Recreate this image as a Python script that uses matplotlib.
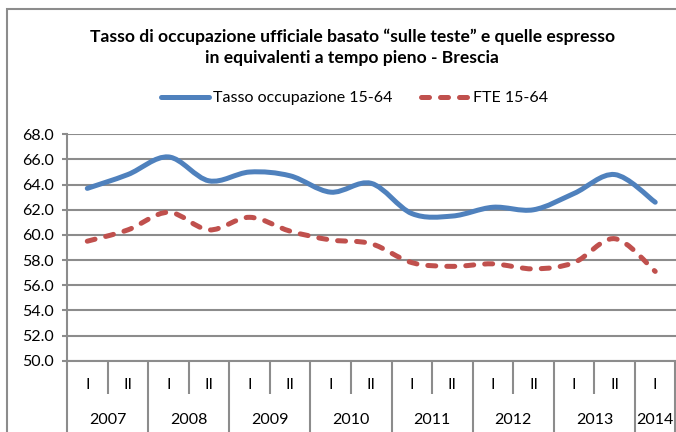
import numpy as np
from matplotlib import pyplot as plt
from matplotlib.path import Path
from matplotlib.patches import PathPatch, Rectangle
from matplotlib.lines import Line2D
from matplotlib.ticker import FormatStrFormatter

# Semesters 2007 I .. 2014 I
semesters = ["I", "II"] * 7 + ["I"]
years = ["2007", "2008", "2009", "2010", "2011", "2012", "2013", "2014"]
tasso = [63.7, 64.8, 66.2, 64.3, 65.0, 64.7, 63.4, 64.1,
         61.7, 61.5, 62.2, 62.0, 63.3, 64.8, 62.6]
fte = [59.5, 60.4, 61.8, 60.4, 61.4, 60.3, 59.6, 59.3,
       57.8, 57.5, 57.7, 57.3, 57.8, 59.7, 57.1]

BLUE = "#4F81BD"
RED = "#C0504D"
GRID = "#8c8c8c"


def smooth_path(values):
    """ Excel-like smoothed line: cubic bezier through every point """
    pts = np.column_stack([np.arange(len(values)), values]).astype(float)
    ext = np.vstack([pts[0], pts, pts[-1]])
    verts = [pts[0]]
    codes = [Path.MOVETO]
    for i in range(len(pts) - 1):
        p_prev, p0, p1, p_next = ext[i], ext[i + 1], ext[i + 2], ext[i + 3]
        verts += [p0 + (p1 - p_prev) / 6, p1 - (p_next - p0) / 6, p1]
        codes += [Path.CURVE4] * 3
    return Path(verts, codes)


def main():
    plt.rcParams['font.family'] = ['Lato', 'DejaVu Sans']
    fig = plt.figure(figsize=(6.76, 4.32), dpi=100)
    ax = fig.add_axes([67 / 676, 1 - 360.7 / 432, 608.5 / 676, 226.4 / 432])

    ax.add_patch(PathPatch(smooth_path(tasso), fill=False, ec=BLUE, lw=3.6,
                           capstyle='round', joinstyle='round', zorder=3))
    ax.add_patch(PathPatch(smooth_path(fte), fill=False, ec=RED, lw=3.6,
                           linestyle=(0, (1.6, 2.2)), capstyle='round',
                           joinstyle='round', zorder=3))

    n = len(semesters)
    ax.set_xlim(-0.5, n - 0.5)
    ax.set_ylim(50, 68)
    ax.set_yticks(np.arange(50, 68.1, 2))
    ax.yaxis.set_major_formatter(FormatStrFormatter('%.1f'))
    ax.yaxis.grid(True, color=GRID, lw=1.5)
    ax.set_axisbelow(True)
    for side in ['top', 'right']:
        ax.spines[side].set_visible(False)
    for side in ['left', 'bottom']:
        ax.spines[side].set_color(GRID)
        ax.spines[side].set_linewidth(1.5)
    ax.tick_params(axis='y', length=3.6, width=1.5, color=GRID, pad=6,
                   labelsize=11.5, labelcolor='black')

    # two-level category axis: year separators (major), semester separators (minor)
    year_edges = list(np.arange(-0.5, n - 0.5, 2)) + [n - 0.5]
    sem_edges = list(np.arange(0.5, n - 1, 2))
    ax.set_xticks(year_edges)
    ax.set_xticks(sem_edges, minor=True)
    ax.set_xticklabels([])
    ax.tick_params(axis='x', which='major', length=56, width=1.5, color=GRID)
    ax.tick_params(axis='x', which='minor', length=24, width=1.5, color=GRID)

    for i, s in enumerate(semesters):
        ax.annotate(s, xy=(i, 0), xycoords=('data', 'axes fraction'),
                    xytext=(0, -17.5), textcoords='offset points',
                    ha='center', va='center', fontsize=11.5)
    for k, y in enumerate(years):
        xc = min(2 * k + 0.5, n - 1)
        ax.annotate(y, xy=(xc, 0), xycoords=('data', 'axes fraction'),
                    xytext=(0, -42.5), textcoords='offset points',
                    ha='center', va='center', fontsize=11.5)

    fig.text(0.521, 1 - 37 / 432,
             "Tasso di occupazione ufficiale basato \u201csulle teste\u201d e quelle espresso",
             ha='center', va='center', fontsize=12.6, fontweight='bold')
    fig.text(0.521, 1 - 58 / 432, "in equivalenti a tempo pieno - Brescia",
             ha='center', va='center', fontsize=12.6, fontweight='bold')

    handles = [Line2D([], [], color=BLUE, lw=3.6, solid_capstyle='round'),
               Line2D([], [], color=RED, lw=3.6, dashes=(1.6, 2.2),
                      dash_capstyle='round')]
    fig.legend(handles, ["Tasso occupazione 15-64", "FTE 15-64"],
               loc='center', bbox_to_anchor=(0.525, 1 - 98 / 432), ncol=2,
               frameon=False, fontsize=11.5, handlelength=3.0,
               handletextpad=0.25, columnspacing=1.8)

    fig.add_artist(Rectangle((7 / 676, -0.1), 1.2, 1.1 - 9 / 432,
                             transform=fig.transFigure, fill=False,
                             ec=GRID, lw=1.5))
    plt.savefig("out.png", dpi=100)
    plt.close()


if __name__ == "__main__":
    main()
